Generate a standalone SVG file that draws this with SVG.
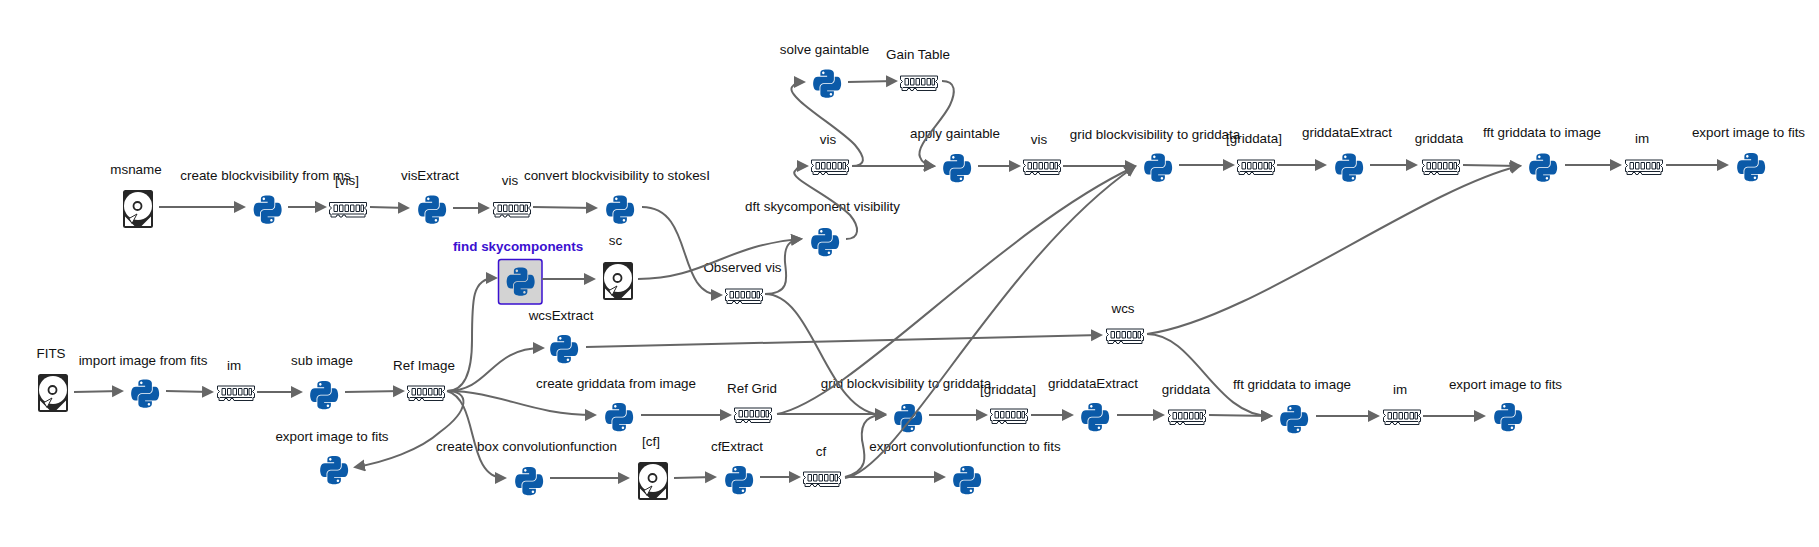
<svg xmlns="http://www.w3.org/2000/svg" xmlns:xlink="http://www.w3.org/1999/xlink" width="1819" height="547" viewBox="0 0 1819 547">
<style>
text{font-family:"Liberation Sans",Arial,sans-serif;font-size:13.4px;fill:#111;text-anchor:middle}
.sel{font-weight:bold;fill:#3a10d0}
.c path{fill:none;stroke:#666;stroke-width:2;marker-end:url(#a)}
</style>
<defs>
<marker id="a" markerUnits="userSpaceOnUse" markerWidth="13" markerHeight="13" refX="9" refY="6" orient="auto"><path d="M0,0L12,6L0,12z" fill="#666"/></marker>
<symbol id="py" viewBox="0 0 110 111" overflow="visible"><path fill="#0b5aa8" fill-rule="evenodd" d="M54.919 0.001c-4.584.022-8.961.413-12.812 1.095C30.76 3.099 28.7 7.295 28.7 15.032v10.219h26.813v3.406H18.638c-7.793 0-14.616 4.684-16.75 13.594-2.462 10.213-2.571 16.586 0 27.25 1.906 7.938 6.457 13.594 14.25 13.594h9.219v-12.25c0-8.85 7.657-16.656 16.75-16.656h26.781c7.454 0 13.406-6.138 13.406-13.625v-25.531c0-7.266-6.13-12.725-13.406-13.937C64.282.328 59.502-.02 54.918.001zM40.419 8.22c2.77 0 5.031 2.298 5.031 5.125 0 2.816-2.262 5.094-5.031 5.094-2.78 0-5.031-2.278-5.031-5.094 0-2.827 2.251-5.125 5.031-5.125z"/><path fill="#0b5aa8" fill-rule="evenodd" d="M85.638 28.657v11.906c0 9.231-7.826 17-16.75 17H42.106c-7.336 0-13.406 6.279-13.406 13.625v25.531c0 7.266 6.319 11.54 13.406 13.625 8.487 2.496 16.626 2.947 26.781 0 6.75-1.954 13.406-5.888 13.406-13.625V86.5H55.513v-3.406h40.188c7.793 0 10.696-5.436 13.406-13.594 2.8-8.399 2.68-16.476 0-27.25-1.926-7.757-5.604-13.594-13.406-13.594zM70.575 93.313c2.78 0 5.031 2.278 5.031 5.094 0 2.827-2.251 5.125-5.031 5.125-2.77 0-5.031-2.298-5.031-5.125 0-2.816 2.261-5.094 5.031-5.094z"/></symbol>
<g id="pyi"><use href="#py" xlink:href="#py" x="-14.5" y="-14" width="29" height="28"/></g>
<g id="mem"><path d="M-18,-7H18.5V-3.5L16.5,-1.5L18.5,.5V4.5H17V7.5H-2L-3,5.5H-5L-6,7.5H-8L-9,5.5H-11L-12,7.5H-17V4.5H-18.5V.5L-16.5,-1.5L-18.5,-3.5V-7z" fill="#fff" stroke="#1a2430" stroke-width="1"/><path d="M-16,4.5H16" stroke="#1a2430" stroke-width="1" fill="none"/><path d="M-14,-4.5h3.5v6.5h-3.5zM-8.5,-4.5h3.5v6.5h-3.5zM-3,-4.5h3.5v6.5h-3.5zM2.5,-4.5h3.5v6.5h-3.5zM8,-4.5h3.5v6.5h-3.5zM13,-4.5h2.5v6.5h-2.5z" fill="#fff" stroke="#1a2430" stroke-width="1"/></g>
<g id="disk"><rect x="-15" y="-19" width="30" height="38" rx="2.5" fill="#262626"/><path d="M-13,17V7.5L-3.500,17zM13,17V7.5L3.500,17z" fill="#fff"/><circle cx="0" cy="-3" r="14" fill="#fff"/><circle cx="-.5" cy="-3" r="4" fill="#fff" stroke="#262626" stroke-width="1.8"/><path d="M-1,5L-9,9.5L-6,14.5z" fill="#fff" stroke="#262626" stroke-width="1"/></g>
</defs>
<g id="n-msname"><use href="#disk" xlink:href="#disk" x="138" y="209"/><text x="136" y="174">msname</text></g>
<g id="n-create-bv"><use href="#pyi" xlink:href="#pyi" x="267.5" y="209.5"/><text x="265.500" y="180">create blockvisibility from ms</text></g>
<g id="n-vis-list"><use href="#mem" xlink:href="#mem" x="348" y="209.500"/><text x="347" y="185">[vis]</text></g>
<g id="n-visextract"><use href="#pyi" xlink:href="#pyi" x="432" y="209.5"/><text x="430" y="180">visExtract</text></g>
<g id="n-vis1"><use href="#mem" xlink:href="#mem" x="512" y="209.500"/><text x="510" y="185">vis</text></g>
<g id="n-convert"><use href="#pyi" xlink:href="#pyi" x="620" y="209.5"/><text x="617" y="180">convert blockvisibility to stokesI</text></g>
<g id="n-find"><rect x="498.5" y="259.5" width="43.5" height="44.5" rx="2.5" fill="#d3d3d3" stroke="#3a10d0" stroke-width="1.5"/><use href="#pyi" xlink:href="#pyi" x="520.5" y="281.5"/><text class="sel" x="518" y="251">find skycomponents</text></g>
<g id="n-sc"><use href="#disk" xlink:href="#disk" x="618" y="281"/><text x="615.500" y="245">sc</text></g>
<g id="n-observed"><use href="#mem" xlink:href="#mem" x="744" y="296"/><text x="742.500" y="272">Observed vis</text></g>
<g id="n-dft"><use href="#pyi" xlink:href="#pyi" x="825" y="242"/><text x="822.500" y="211">dft skycomponent visibility</text></g>
<g id="n-solve"><use href="#pyi" xlink:href="#pyi" x="827" y="83.500"/><text x="824.500" y="54">solve gaintable</text></g>
<g id="n-gain"><use href="#mem" xlink:href="#mem" x="919" y="83"/><text x="918" y="59">Gain Table</text></g>
<g id="n-vis2"><use href="#mem" xlink:href="#mem" x="830" y="167"/><text x="828" y="144">vis</text></g>
<g id="n-apply"><use href="#pyi" xlink:href="#pyi" x="957" y="168"/><text x="955" y="138">apply gaintable</text></g>
<g id="n-vis3"><use href="#mem" xlink:href="#mem" x="1042" y="167"/><text x="1039" y="144">vis</text></g>
<g id="n-grid1"><use href="#pyi" xlink:href="#pyi" x="1158" y="167.500"/><text x="1155" y="138.500">grid blockvisibility to griddata</text></g>
<g id="n-gd-list1"><use href="#mem" xlink:href="#mem" x="1256" y="167"/><text x="1254" y="143">[griddata]</text></g>
<g id="n-gdextract1"><use href="#pyi" xlink:href="#pyi" x="1349" y="167.500"/><text x="1347" y="137">griddataExtract</text></g>
<g id="n-gd1"><use href="#mem" xlink:href="#mem" x="1441" y="167"/><text x="1439" y="143">griddata</text></g>
<g id="n-fft1"><use href="#pyi" xlink:href="#pyi" x="1543" y="167.500"/><text x="1542" y="137">fft griddata to image</text></g>
<g id="n-im1"><use href="#mem" xlink:href="#mem" x="1644" y="167"/><text x="1642" y="143">im</text></g>
<g id="n-export1"><use href="#pyi" xlink:href="#pyi" x="1751" y="167"/><text x="1748.500" y="137">export image to fits</text></g>
<g id="n-fits"><use href="#disk" xlink:href="#disk" x="53" y="393"/><text x="51" y="358">FITS</text></g>
<g id="n-import"><use href="#pyi" xlink:href="#pyi" x="145" y="393.500"/><text x="143" y="364.500">import image from fits</text></g>
<g id="n-im0"><use href="#mem" xlink:href="#mem" x="236" y="393"/><text x="234" y="370">im</text></g>
<g id="n-sub"><use href="#pyi" xlink:href="#pyi" x="324" y="395"/><text x="322" y="364.500">sub image</text></g>
<g id="n-ref"><use href="#mem" xlink:href="#mem" x="426" y="393"/><text x="424" y="369.500">Ref Image</text></g>
<g id="n-export0"><use href="#pyi" xlink:href="#pyi" x="334" y="470"/><text x="332" y="440.500">export image to fits</text></g>
<g id="n-wcsextract"><use href="#pyi" xlink:href="#pyi" x="564" y="349"/><text x="561" y="319.500">wcsExtract</text></g>
<g id="n-create-gd"><use href="#pyi" xlink:href="#pyi" x="619" y="417"/><text x="616" y="387.500">create griddata from image</text></g>
<g id="n-refgrid"><use href="#mem" xlink:href="#mem" x="753" y="415"/><text x="752" y="392.500">Ref Grid</text></g>
<g id="n-grid2"><use href="#pyi" xlink:href="#pyi" x="908" y="418"/><text x="906" y="387.500">grid blockvisibility to griddata</text></g>
<g id="n-gd-list2"><use href="#mem" xlink:href="#mem" x="1009" y="416"/><text x="1008" y="393.500">[griddata]</text></g>
<g id="n-gdextract2"><use href="#pyi" xlink:href="#pyi" x="1095" y="417"/><text x="1093" y="388">griddataExtract</text></g>
<g id="n-gd2"><use href="#mem" xlink:href="#mem" x="1187" y="417"/><text x="1186" y="393.500">griddata</text></g>
<g id="n-fft2"><use href="#pyi" xlink:href="#pyi" x="1294" y="419"/><text x="1292" y="388.500">fft griddata to image</text></g>
<g id="n-im2"><use href="#mem" xlink:href="#mem" x="1402" y="417"/><text x="1400" y="394">im</text></g>
<g id="n-export2"><use href="#pyi" xlink:href="#pyi" x="1508" y="417"/><text x="1505.500" y="388.500">export image to fits</text></g>
<g id="n-wcs"><use href="#mem" xlink:href="#mem" x="1125" y="336"/><text x="1123" y="313">wcs</text></g>
<g id="n-box"><use href="#pyi" xlink:href="#pyi" x="529" y="481"/><text x="526.500" y="450.500">create box convolutionfunction</text></g>
<g id="n-cf-disk"><use href="#disk" xlink:href="#disk" x="653" y="481"/><text x="651" y="445.500">[cf]</text></g>
<g id="n-cfextract"><use href="#pyi" xlink:href="#pyi" x="739" y="480"/><text x="737" y="450.500">cfExtract</text></g>
<g id="n-cf"><use href="#mem" xlink:href="#mem" x="822" y="479"/><text x="821" y="455.500">cf</text></g>
<g id="n-export-cf"><use href="#pyi" xlink:href="#pyi" x="967" y="480"/><text x="965" y="450.500">export convolutionfunction to fits</text></g>
<g id="connectors" class="c">
<path d="M159,207H243"/><path d="M288,207H324"/><path d="M370,207L407,208"/><path d="M453,208H487"/><path d="M533,207L595,208"/>
<path d="M642,207C695,207 675,295 720,295"/>
<path d="M542,279H593"/>
<path d="M638,279C705,279 725,245 800,239"/>
<path d="M765,294C792,294 786,275 785,262C784,245 790,240 800,239"/>
<path d="M765,294C815,294 825,415 884,415"/>
<path d="M846,239C860,239 860,227 850,215C830,195 788,178 795,171C798,167 800,166 806,166"/>
<path d="M852,166C866,166 866,158 855,145C840,128 785,97 792,87C795,83 798,82 803,82"/>
<path d="M852,166H933"/>
<path d="M848,82L895,81"/>
<path d="M942,81C956,81 956,92 950,105C942,122 915,145 920,157C922,163 926,165 933,166"/>
<path d="M978,166H1018"/><path d="M1063,166H1134"/>
<path d="M777,414C850,400 1000,230 1134,167"/>
<path d="M845,478C900,470 1000,260 1134,167"/>
<path d="M777,414H884"/>
<path d="M845,477C870,470 865,455 862,440C860,420 870,415 884,415"/>
<path d="M845,477H943"/>
<path d="M929,415H985"/><path d="M1031,415H1071"/><path d="M1117,415H1162"/><path d="M1209,415L1270,416"/><path d="M1316,416H1377"/><path d="M1423,416H1483"/>
<path d="M1147,334C1195,334 1215,416 1270,416"/>
<path d="M1147,334C1250,320 1420,190 1519,166"/>
<path d="M1463,165L1519,166"/><path d="M1565,165H1619"/><path d="M1666,165H1726"/><path d="M1370,165H1415"/><path d="M1277,165H1324"/><path d="M1179,165H1232"/>
<path d="M74,392L121,391"/><path d="M166,391L211,392"/><path d="M257,392H300"/><path d="M345,392L402,391"/>
<path d="M447,391C470,391 470,410 440,432C420,450 385,462 356,467"/>
<path d="M447,391C465,391 472,370 472,340C472,300 472,278 495,278"/>
<path d="M447,391C490,391 490,348 542,348"/>
<path d="M586,347L1100,335"/>
<path d="M447,391C500,391 530,415 594,415"/>
<path d="M447,391C480,400 465,478 504,478"/>
<path d="M641,415H729"/><path d="M550,478H627"/><path d="M674,478L714,477"/><path d="M760,477H798"/>
</g>
</svg>
